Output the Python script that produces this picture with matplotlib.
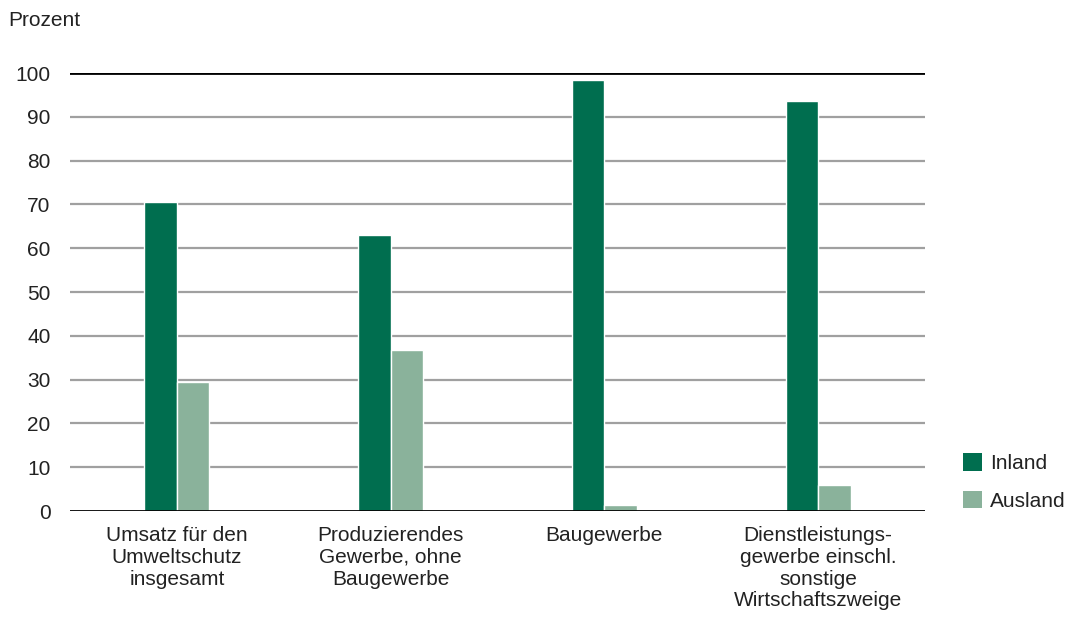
import matplotlib
matplotlib.use("Agg")
import matplotlib.pyplot as plt
import numpy as np
from matplotlib.patches import Patch

categories = ["Umsatz für den\nUmweltschutz\ninsgesamt",
              "Produzierendes\nGewerbe, ohne\nBaugewerbe",
              "Baugewerbe",
              "Dienstleistungs-\ngewerbe einschl.\nsonstige\nWirtschaftszweige"]
inland = [70.5, 63.0, 98.4, 93.7]
ausland = [29.5, 36.8, 1.4, 5.9]
yticks = [0, 10, 20, 30, 40, 50, 60, 70, 80, 90, 100]

c_in = "#006e4f"
c_aus = "#8ab29b"
txt = "#222222"
fs = 15

plt.rcParams['font.family'] = ['Liberation Sans', 'DejaVu Sans']
fig = plt.figure(figsize=(10.71, 6.21), dpi=100)
ax = fig.add_axes([0.0654, 0.1771, 0.7983, 0.7053])

x = np.arange(len(categories)) + 0.5
w = 0.152
ax.bar(x - w/2, inland, width=w, color=c_in, edgecolor="white", linewidth=1.0, zorder=3)
ax.bar(x + w/2, ausland, width=w, color=c_aus, edgecolor="white", linewidth=1.0, zorder=3)

ax.set_xlim(0, 4)
ax.set_ylim(0, 100)
ax.set_yticks(yticks)
ax.set_yticklabels([str(v) for v in yticks], fontsize=fs, color=txt)
for v in yticks:
    if v in (0, 100):
        ax.axhline(v, color="black", linewidth=2, zorder=4 if v == 0 else 2)
    else:
        ax.axhline(v, color="#a0a0a0", linewidth=1.6, zorder=2)
ax.set_xticks(x)
ax.set_xticklabels(categories, fontsize=fs, color=txt, linespacing=1.18, va="top")
ax.tick_params(axis="both", length=0)
ax.tick_params(axis="y", pad=14)
ax.tick_params(axis="x", pad=11)
for s in ax.spines.values():
    s.set_visible(False)

fig.text(8/1071, 1 - 21/621, "Prozent", fontsize=fs, color=txt, va="center", ha="left")

handles = [Patch(facecolor=c_in, label="Inland"), Patch(facecolor=c_aus, label="Ausland")]
leg = fig.legend(handles=handles, loc="center left", bbox_to_anchor=(944/1071, 1 - 482/621),
                 frameon=False, fontsize=fs, handlelength=0.9, handleheight=0.9,
                 handletextpad=0.4, labelspacing=0.85, labelcolor=txt)

fig.savefig("out.png", dpi=100)
